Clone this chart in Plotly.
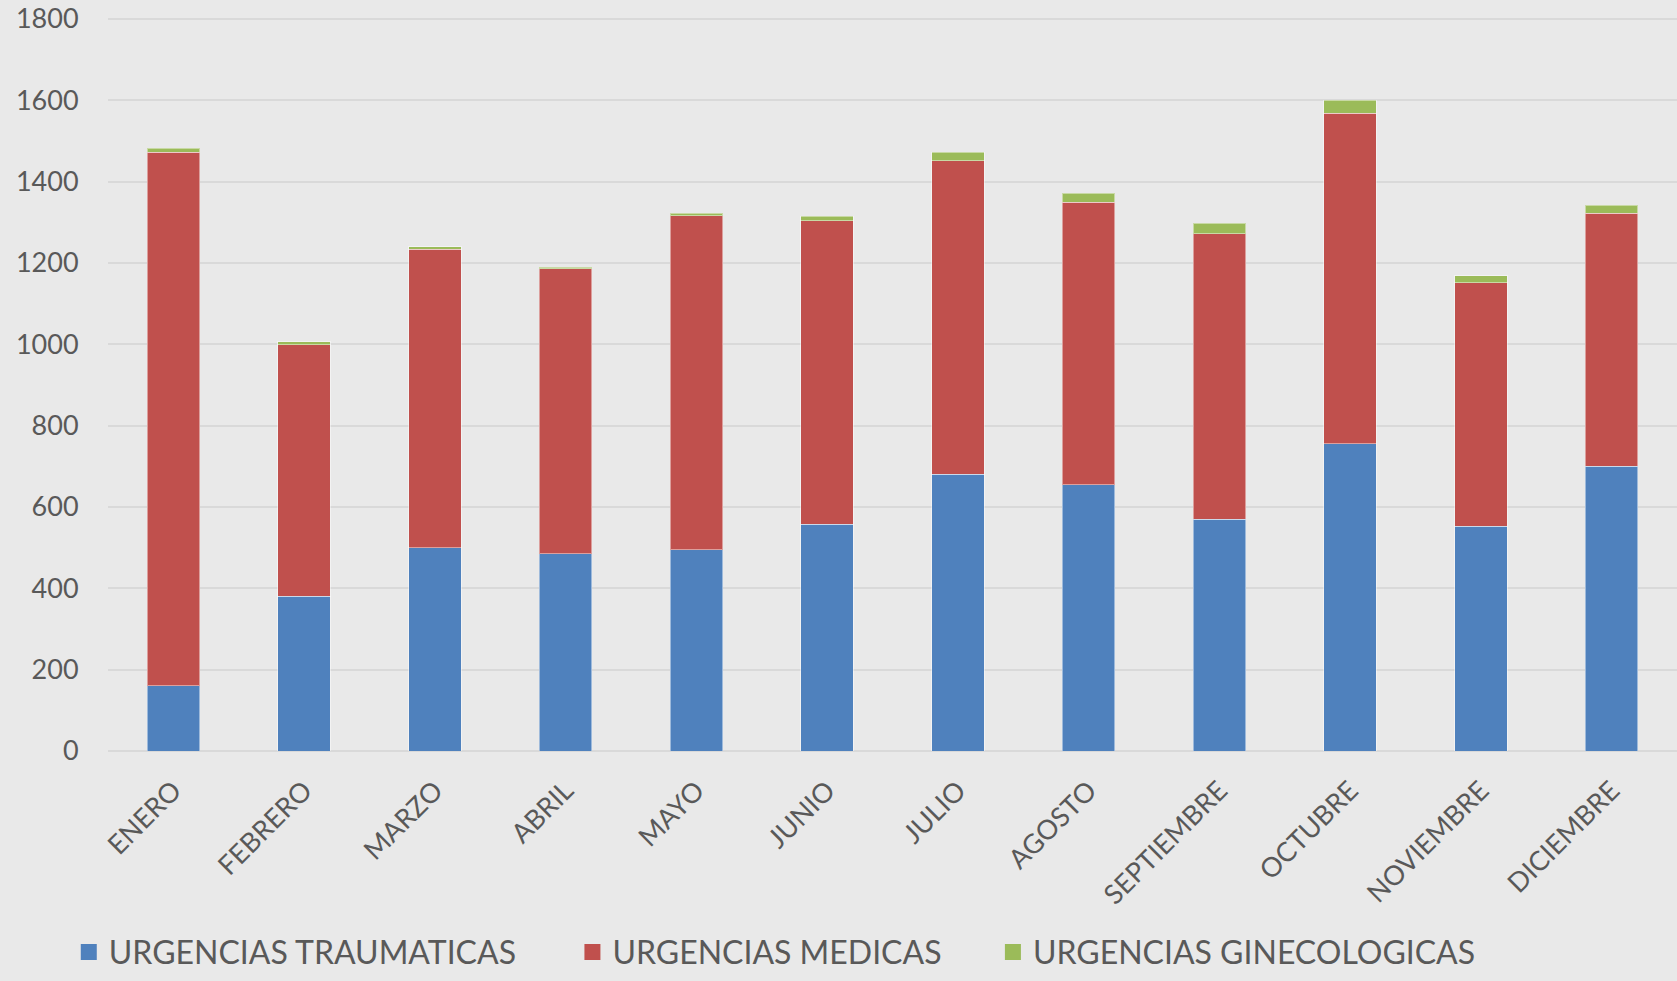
import plotly.graph_objects as go

months = ["ENERO", "FEBRERO", "MARZO", "ABRIL", "MAYO", "JUNIO", "JULIO",
          "AGOSTO", "SEPTIEMBRE", "OCTUBRE", "NOVIEMBRE", "DICIEMBRE"]
traumaticas = [160, 380, 500, 485, 495, 558, 680, 655, 570, 755, 553, 700]
medicas = [1312, 619, 734, 701, 821, 746, 772, 695, 702, 813, 598, 623]
ginecologicas = [10, 8, 6, 4, 6, 11, 20, 22, 26, 32, 18, 19]
y_ticks = [0, 200, 400, 600, 800, 1000, 1200, 1400, 1600, 1800]

series = [
    ("URGENCIAS TRAUMATICAS", traumaticas, "#4f81bd"),
    ("URGENCIAS MEDICAS", medicas, "#c0504d"),
    ("URGENCIAS GINECOLOGICAS", ginecologicas, "#9bbb59"),
]
legend_names = ["legend", "legend2", "legend3"]
legend_x = [-0.025, 0.296, 0.564]

FONT = "Lato"
TXT = "#595959"

fig = go.Figure()
for (name, vals, color), lg in zip(series, legend_names):
    fig.add_trace(go.Bar(
        x=months, y=vals, name=name, marker_color=color,
        marker_line=dict(color="rgba(255,255,255,0.45)", width=1),
        showlegend=False, legendgroup=name,
    ))
for (name, vals, color), lg in zip(series, legend_names):
    fig.add_trace(go.Scatter(
        x=[None], y=[None], mode="markers", name=name, legend=lg,
        legendgroup=name,
        marker=dict(symbol="square", size=20, color=color),
    ))

layout_legends = {}
for lg, lx in zip(legend_names, legend_x):
    layout_legends[lg] = dict(
        x=lx, y=-0.274, xanchor="left", yanchor="middle",
        orientation="h", bgcolor="rgba(0,0,0,0)",
        font=dict(family=FONT, size=32, color=TXT),
        itemwidth=30,
    )

fig.update_layout(
    width=1677, height=981,
    barmode="stack", bargap=0.6,
    paper_bgcolor="#e9e9e9", plot_bgcolor="#e9e9e9",
    margin=dict(l=108, r=0, t=17, b=230),
    font=dict(family=FONT, size=27, color=TXT),
    **layout_legends,
)
fig.update_yaxes(
    range=[0, 1805], tickvals=y_ticks, gridcolor="#d9d9d9", gridwidth=1.5,
    zeroline=True, zerolinecolor="#d9d9d9", zerolinewidth=1.5,
    showline=False, ticks="outside", ticklen=23, tickcolor="rgba(0,0,0,0)",
    ticklabeloverflow="allow",
    tickfont=dict(family=FONT, size=27, color=TXT),
)
fig.update_xaxes(
    tickangle=-45, showline=False, showgrid=False,
    ticks="outside", ticklen=12, tickcolor="rgba(0,0,0,0)",
    tickfont=dict(family=FONT, size=27, color=TXT),
)

fig.write_html("out.html", config={"displayModeBar": False},
               post_script="document.body.style.margin='0';document.body.style.background='#e9e9e9';")
